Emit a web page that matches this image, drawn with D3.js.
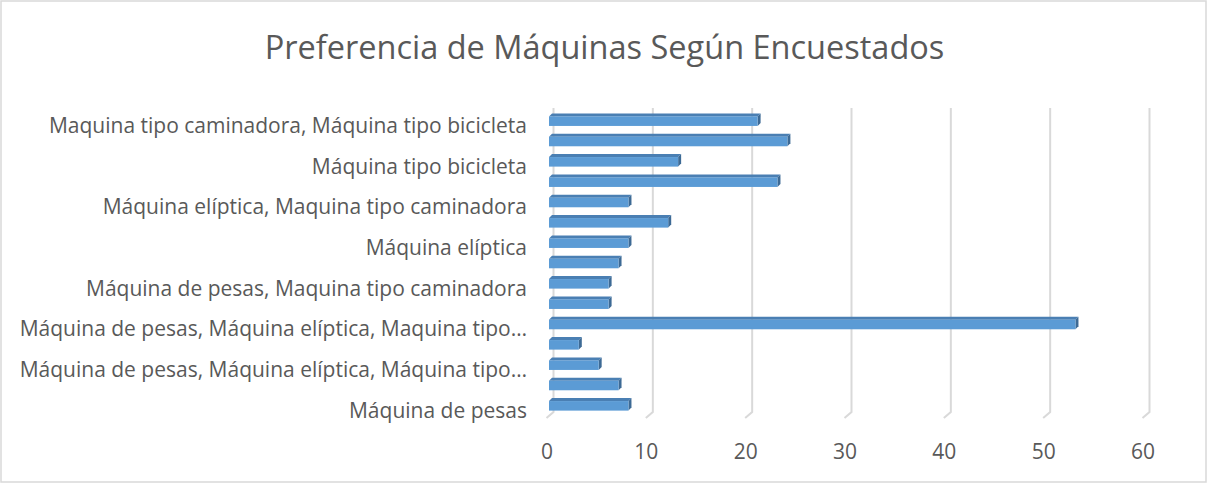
<!DOCTYPE html>
<html>
<head>
<meta charset="utf-8">
<script src="https://cdn.jsdelivr.net/npm/d3@7"></script>
<style>
  html, body { margin: 0; padding: 0; background: #fff; }
  svg { display: block; }
</style>
</head>
<body>
<svg id="chart" width="1207" height="483"></svg>
<script>
// ---- data (bottom to top, as in the chart) ----
const title = "Preferencia de Máquinas Según Encuestados";
const categories = [
  "Máquina de pesas",
  "Máquina de pesas, Máquina elíptica",
  "Máquina de pesas, Máquina elíptica, Máquina tipo…",
  "Máquina de pesas, Máquina elíptica, Máquina tipo bicicleta, Maquina tipo caminadora",
  "Máquina de pesas, Máquina elíptica, Maquina tipo…",
  "Máquina de pesas, Máquina tipo bicicleta",
  "Máquina de pesas, Maquina tipo caminadora",
  "Máquina de pesas, Maquina tipo caminadora, Máquina tipo bicicleta",
  "Máquina elíptica",
  "Máquina elíptica, Máquina tipo bicicleta",
  "Máquina elíptica, Maquina tipo caminadora",
  "Máquina elíptica, Maquina tipo caminadora, Máquina tipo bicicleta",
  "Máquina tipo bicicleta",
  "Maquina tipo caminadora",
  "Maquina tipo caminadora, Máquina tipo bicicleta"
];
const values = [8, 7, 5, 3, 53, 6, 6, 7, 8, 12, 8, 23, 13, 24, 21];
const shownLabelIndex = [0, 2, 4, 6, 8, 10, 12, 14];
const xTicks = [0, 10, 20, 30, 40, 50, 60];

// ---- layout ----
const W = 1207, H = 483;
const svg = d3.select("#chart");
const textColor = "#595959";
const gridColor = "#d9d9d9";
const fontFam = "'Open Sans', 'Noto Sans', sans-serif";

// outer border
svg.append("rect").attr("x", 1).attr("y", 1).attr("width", W - 2).attr("height", H - 2)
  .attr("fill", "#fff").attr("stroke", gridColor).attr("stroke-width", 1.5);

// title
svg.append("text").attr("x", W / 2 + 1).attr("y", 59).attr("text-anchor", "middle")
  .attr("font-family", fontFam).attr("font-size", 32.5)
  .attr("fill", textColor).text(title);

const x = d3.scaleLinear().domain([0, 60]).range([549, 1145]);
const y = d3.scaleBand().domain(categories.slice().reverse())
  .range([111, 416]).paddingInner(0.53).paddingOuter(0.265);

const backDx = 4.5, backTop = 108, backBottom = 412, floorDx = -7, floorDy = 6;

// gridlines (back wall + floor)
svg.append("g").selectAll("path").data(xTicks).join("path")
  .attr("d", v => {
    const xb = x(v) + backDx;
    return `M${xb},${backTop}L${xb},${backBottom}L${xb + floorDx},${backBottom + floorDy}`;
  })
  .attr("fill", "none").attr("stroke", gridColor).attr("stroke-width", 2);

// bars (pseudo 3D)
const d = 3;
const bars = svg.append("g").selectAll("g").data(categories.map((c, i) => ({ c, v: values[i] })))
  .join("g");
bars.append("path") // top face
  .attr("d", o => {
    const x0 = x(0), x1 = x(o.v), yy = y(o.c);
    return `M${x0},${yy}L${x0 + d},${yy - d}L${x1 + d},${yy - d}L${x1},${yy}Z`;
  })
  .attr("fill", "#4a7fb3");
bars.append("path") // side face
  .attr("d", o => {
    const x1 = x(o.v), yy = y(o.c), h = y.bandwidth();
    return `M${x1},${yy}L${x1 + d},${yy - d}L${x1 + d},${yy + h - d}L${x1},${yy + h}Z`;
  })
  .attr("fill", "#3d6a95");
bars.append("rect") // front face
  .attr("x", x(0)).attr("y", o => y(o.c))
  .attr("width", o => x(o.v) - x(0)).attr("height", y.bandwidth())
  .attr("fill", "#5b9bd5");

// category labels
svg.append("g").selectAll("text").data(shownLabelIndex).join("text")
  .attr("x", 527).attr("y", i => y(categories[i]) + y.bandwidth() / 2 + 4.5)
  .attr("dy", "0.35em").attr("text-anchor", "end")
  .attr("font-family", fontFam).attr("font-size", 21)
  .attr("fill", textColor).text(i => categories[i]);

// value axis labels
svg.append("g").selectAll("text").data(xTicks).join("text")
  .attr("x", v => x(v) - 2).attr("y", 452).attr("dy", "0.35em").attr("text-anchor", "middle")
  .attr("font-family", fontFam).attr("font-size", 21)
  .attr("fill", textColor).text(v => v);
</script>
</body>
</html>
